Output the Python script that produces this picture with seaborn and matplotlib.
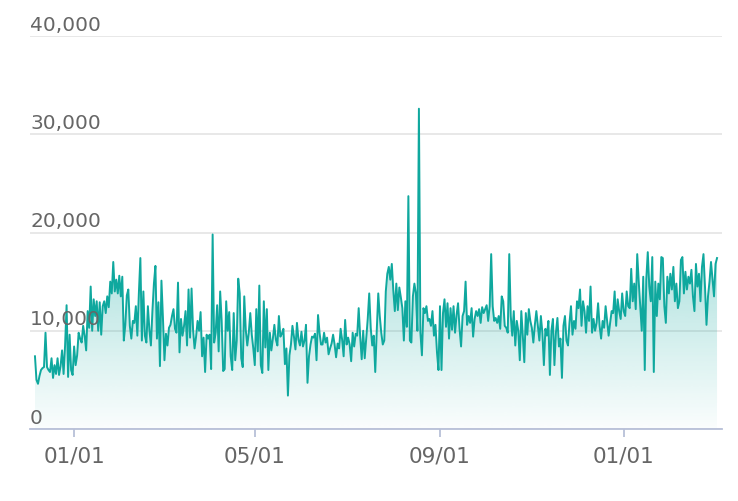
import numpy as np
import pandas as pd
import matplotlib
matplotlib.use("Agg")
import matplotlib.pyplot as plt
import matplotlib.dates as mdates
import seaborn as sns
from matplotlib.patches import Polygon
from matplotlib.colors import LinearSegmentedColormap

start_date = "2020-12-06"
dec20 = [7.4,5.0,4.6,5.4,6.0,6.2,6.3,9.8,6.3,6.0,5.8,7.2,5.2,6.5,5.6,7.2,5.5,6.4,8.0,5.6,8.5,12.6,5.3,9.6,6.0,5.5]
jan21 = [8.4,6.5,7.5,9.8,9.2,8.8,10.5,9.5,8.0,12.0,10.3,14.5,10.0,13.2,11.5,13.0,10.0,12.9,9.6,12.5,13.0,11.8,13.5,12.4,15.0,13.8,17.0,14.0,15.2,13.8,15.6]
feb21 = [13.5,15.5,9.0,10.6,13.6,14.2,10.5,9.2,11.0,10.8,12.5,9.5,13.8,17.4,9.0,14.0,9.5,8.8,12.5,10.1,8.5,12.0,14.8,16.6,9.2,12.9,6.4,15.1]
mar21 = [11.3,7.0,9.7,8.5,10.3,10.6,11.5,12.2,10.2,9.8,14.9,7.8,11.2,9.5,10.5,12.0,8.5,14.2,9.3,14.3,10.1,8.2,9.4,11.0,10.0,11.9,7.4,9.3,5.8,9.6,9.2]
apr21 = [9.6,6.1,19.8,8.8,9.8,12.6,7.9,14.0,11.0,5.9,6.1,13.0,10.0,11.9,7.4,6.0,11.8,7.0,9.0,15.3,13.8,7.2,6.3,13.5,10.1,8.5,9.8,11.8,9.6,8.2]
may21 = [6.5,12.2,7.9,14.6,6.5,5.7,13.0,8.3,12.2,6.0,9.8,8.0,9.2,10.6,9.1,8.5,11.5,9.4,9.7,10.2,6.6,8.2,3.4,7.5,8.6,10.5,9.4,8.1,10.8,9.1,8.5]
jun21 = [9.9,8.4,9.0,10.6,4.7,7.4,8.6,9.4,9.3,9.7,7.0,11.6,9.8,8.6,8.6,9.8,8.8,9.3,7.6,8.2,8.7,9.6,8.6,7.3,8.7,8.2,10.2,9.1,7.4,11.1]
jul21 = [8.6,9.3,8.6,6.9,9.8,8.4,9.7,9.5,12.3,9.4,7.1,10.0,7.2,9.2,11.2,13.8,10.3,8.5,9.5,5.8,10.0,13.8,11.5,9.8,8.6,9.0,14.0,15.8,16.5,15.2,16.8]
aug21 = [14.1,12.0,14.8,12.1,14.4,13.4,12.3,9.0,13.0,10.4,23.7,9.0,8.8,13.5,14.8,13.8,10.0,32.6,9.8,7.5,12.3,11.8,12.5,11.0,11.2,10.5,12.0,9.5,10.6,7.8,6.0]
sep21 = [12.5,6.0,11.8,13.2,10.4,12.8,9.2,12.3,10.1,12.5,9.8,11.6,12.8,10.2,8.4,11.5,12.0,15.0,10.6,11.5,10.8,12.3,9.4,11.2,12.0,11.5,12.2,10.8,12.4,11.8]
oct21 = [12.2,12.6,11.0,12.5,17.8,12.5,11.0,11.3,10.8,11.5,10.2,13.5,13.0,10.5,10.3,9.8,17.8,11.5,9.5,12.0,8.5,11.0,10.0,7.0,12.0,9.5,6.8,11.8,9.6,12.2,11.0]
nov21 = [10.3,8.8,10.6,12.0,10.5,9.0,11.5,9.8,6.5,10.2,9.5,11.0,5.5,10.0,11.2,6.5,9.8,11.3,8.4,9.2,5.2,10.5,11.5,9.0,8.5,10.8,12.5,9.6,11.0,10.2]
dec21 = [13.0,12.3,14.2,10.5,13.0,12.0,9.8,12.5,11.0,14.5,9.8,11.2,10.0,10.8,12.8,10.5,9.2,11.0,10.3,12.5,11.0,9.5,10.8,12.0,11.8,14.0,10.5,13.2,12.0,11.2,13.8]
jan22 = [12.0,11.5,14.0,12.5,12.3,16.3,13.0,14.8,12.2,17.8,15.0,12.5,10.0,15.5,6.0,15.2,18.0,14.5,13.0,17.5,5.8,15.0,11.5,14.8,13.2,17.5,17.4,12.5,10.8,15.5,13.8]
feb22 = [15.8,14.2,16.5,13.0,14.8,12.3,13.0,17.2,17.5,13.8,16.0,14.2,15.5,14.8,16.2,13.5,12.0,16.8,14.5,15.8,13.0,16.5,17.8,14.5,10.6,13.5,15.0,17.0]
mar22 = [15.2,13.5,16.8,17.4]
y_ticks = [0, 10000, 20000, 30000, 40000]

vals_k = dec20+jan21+feb21+mar21+apr21+may21+jun21+jul21+aug21+sep21+oct21+nov21+dec21+jan22+feb22+mar22
values = np.array(vals_k) * 1000
dates = pd.date_range(start_date, periods=len(values), freq="D")
df = pd.DataFrame({"date": dates, "value": values})

color = "#0fa89e"
fig = plt.figure(figsize=(7.38, 5.02), dpi=100)
ax = fig.add_axes([30/738, 72/502, 692/738, 393/502])

xnum = mdates.date2num(df["date"])
ytop = values.max()
yy = np.linspace(ytop, 0, 400)
alpha = 0.02 + 0.30 * np.clip(yy / 17000, 0, 1)
grad = alpha.reshape(-1, 1)
cmap = LinearSegmentedColormap.from_list("g", [(0.06, 0.66, 0.62, 0), (0.06, 0.66, 0.62, 1)])
im = ax.imshow(grad, aspect="auto", cmap=cmap, vmin=0, vmax=1,
               extent=[xnum[0], xnum[-1], 0, ytop], origin="upper", zorder=1)
poly = Polygon(np.column_stack([np.r_[xnum[0], xnum, xnum[-1]], np.r_[0, values, 0]]),
               closed=True, facecolor="none", edgecolor="none")
ax.add_patch(poly)
im.set_clip_path(poly)

sns.lineplot(data=df, x="date", y="value", ax=ax, color=color, linewidth=1.4, zorder=3)

pad = 3.3
ax.set_xlim(xnum[0] - pad, xnum[-1] + pad)
ax.set_ylim(0, 40000)
ax.set_xlabel("")
ax.set_ylabel("")
ax.set_yticks(y_ticks)
ax.set_yticklabels([])
ax.tick_params(axis="y", length=0)
ax.grid(axis="y", color="#e6e6e6", linewidth=1.3)
ax.set_axisbelow(True)
for s in ["top", "right", "left"]:
    ax.spines[s].set_visible(False)
ax.spines["bottom"].set_color("#b8c0d8")
ax.spines["bottom"].set_linewidth(1.3)
for t in y_ticks:
    ax.text(0, t + 250, f"{t:,}", transform=ax.get_yaxis_transform(),
            ha="left", va="bottom", fontsize=14.5, color="#666666")

ax.xaxis.set_major_locator(mdates.MonthLocator(bymonth=[1, 5, 9]))
ax.xaxis.set_major_formatter(mdates.DateFormatter("%m/%d"))
ax.tick_params(axis="x", length=6, width=1.3, color="#b8c0d8", labelsize=15.5,
               labelcolor="#666666", pad=6)
fig.savefig("out.png", dpi=100)
